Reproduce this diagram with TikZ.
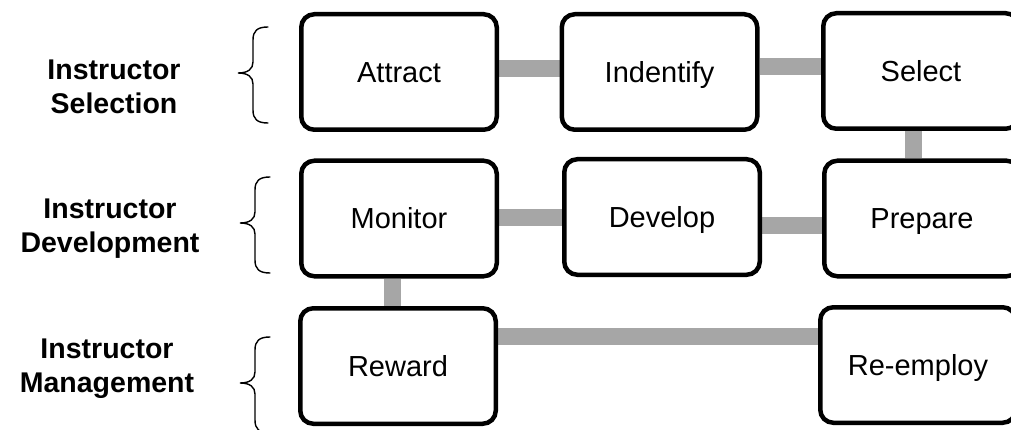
\documentclass[tikz,border=0pt]{standalone}
\usepackage{fontspec}
\setmainfont{Liberation Sans}
\usetikzlibrary{backgrounds}
\definecolor{linkgray}{HTML}{A6A6A6}
\begin{document}
\begin{tikzpicture}[x=1pt,y=-1pt,
  box/.style={draw, line width=4.5pt, rounded corners=13pt, fill=white,
    minimum width=195.5pt, minimum height=115.5pt, inner sep=0pt,
    text height=24pt, text depth=3pt,
    font=\fontsize{29}{34}\selectfont},
  conn/.style={draw=linkgray, line width=17pt},
  lab/.style={font=\fontsize{28.5}{34}\selectfont\bfseries, align=center, inner sep=0pt},
  brace/.style={line width=1.4pt, line cap=round}]
\useasboundingbox (0,0) rectangle (1011,430);
\clip (0,0) rectangle (1011,430);

% boxes
\node[box] (attract) at (399,72) {Attract};
\node[box] (identify) at (659.5,72) {Indentify};
\node[box] (select) at (921,71) {Select};
\node[box] (monitor) at (399,218.5) {Monitor};
\node[box] (develop) at (662,217) {Develop};
\node[box] (prepare) at (922,218.5) {Prepare};
\node[box] (reward) at (398,366) {Reward};
\node[box] (reemploy) at (918,365) {Re-employ};

% connectors
\begin{scope}[on background layer]
  \draw[conn] (attract.east |- 0,69) -- (identify.west |- 0,69);
  \draw[conn] (identify.east |- 0,67) -- (select.west |- 0,67);
  \draw[conn] (select.south -| 913,0) -- (prepare.north -| 913,0);
  \draw[conn] (monitor.east |- 0,218) -- (develop.west |- 0,218);
  \draw[conn] (develop.east |- 0,226) -- (prepare.west |- 0,226);
  \draw[conn] (monitor.south -| 392,0) -- (reward.north -| 392,0);
  \draw[conn] (reward.east |- 0,336) -- (reemploy.west |- 0,336);
\end{scope}

% row labels
\node[lab] (labsel) at (114,87) {Instructor\\Selection};
\node[lab] (labdev) at (110,229) {Instructor\\Development};
\node[lab] (labman) at (107,369) {Instructor\\Management};

% braces
\draw[brace] (268,27) .. controls (257,27) and (253,31) .. (253,40) -- (253,62)
  .. controls (253,69) and (248,73) .. (238,73)
  .. controls (248,73) and (253,77) .. (253,84) -- (253,110)
  .. controls (253,119) and (257,123) .. (268,123);
\draw[brace] (270,177) .. controls (259,177) and (255,181) .. (255,190) -- (255,212)
  .. controls (255,219) and (250,223) .. (240,223)
  .. controls (250,223) and (255,227) .. (255,234) -- (255,260)
  .. controls (255,269) and (259,273) .. (270,273);
\draw[brace] (270,337) .. controls (259,337) and (255,341) .. (255,350) -- (255,372)
  .. controls (255,379) and (250,383) .. (240,383)
  .. controls (250,383) and (255,387) .. (255,394) -- (255,420)
  .. controls (255,429) and (259,433) .. (270,433);
\end{tikzpicture}
\end{document}
